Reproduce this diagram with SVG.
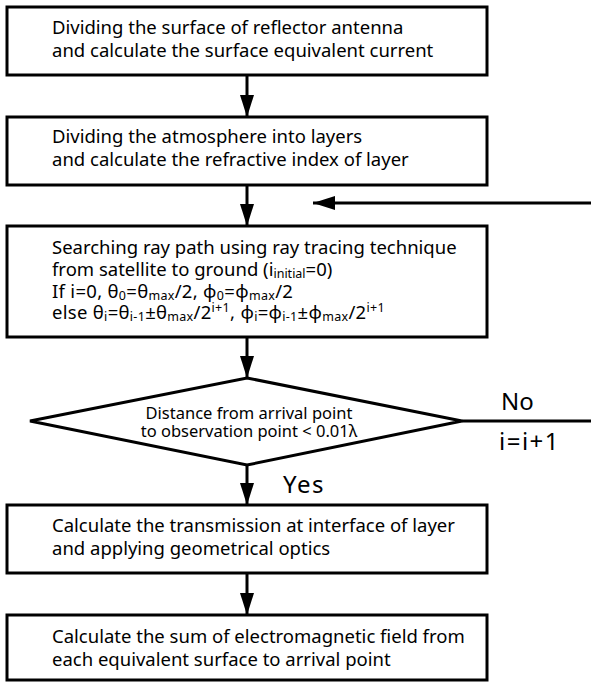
<svg xmlns="http://www.w3.org/2000/svg" width="591" height="682" viewBox="0 0 591 682">
<style>
.box{fill:#fff;stroke:#000;stroke-width:3}
.t{font-family:"Noto Sans","DejaVu Sans",sans-serif;font-size:18.5px;fill:#000}
.d{font-family:"Noto Sans","DejaVu Sans",sans-serif;font-size:16.5px;fill:#000}
.l{font-family:"Noto Sans","DejaVu Sans",sans-serif;font-size:24px;fill:#000}
.c{stroke:#000;stroke-width:3;fill:none}
.s{font-size:12.5px}
</style>
<defs>
<marker id="ah" viewBox="0 0 22 14" refX="22" refY="7" markerWidth="22" markerHeight="14" markerUnits="userSpaceOnUse" orient="auto">
<path d="M0,0 L22,7 L0,14 Z" fill="#000"/>
</marker>
</defs>
<rect width="591" height="682" fill="#fff"/>
<g id="connectors">
<line class="c" x1="247" y1="75" x2="247" y2="117" marker-end="url(#ah)"/>
<line class="c" x1="247" y1="185" x2="247" y2="226" marker-end="url(#ah)"/>
<line class="c" x1="591" y1="203" x2="313" y2="203" marker-end="url(#ah)"/>
<line class="c" x1="247" y1="337" x2="247" y2="378" marker-end="url(#ah)"/>
<line class="c" x1="462" y1="421" x2="591" y2="421"/>
<line class="c" x1="247" y1="465" x2="247" y2="505" marker-end="url(#ah)"/>
<line class="c" x1="247" y1="573" x2="247" y2="615" marker-end="url(#ah)"/>
<text class="l" x="501" y="410">No</text>
<text class="l" x="499" y="450" letter-spacing="1.5">i=i+1</text>
<text class="l" x="283" y="493" font-size="25" letter-spacing="1.5">Yes</text>
</g>
<g id="n1">
<rect class="box" x="7" y="7" width="480" height="68"/>
<text class="t" x="52" y="34">Dividing the surface of reflector antenna</text>
<text class="t" x="52" y="57">and calculate the surface equivalent current</text>
</g>
<g id="n2">
<rect class="box" x="7" y="117" width="480" height="68"/>
<text class="t" x="52" y="143">Dividing the atmosphere into layers</text>
<text class="t" x="52" y="166">and calculate the refractive index of layer</text>
</g>
<g id="n3">
<rect class="box" x="7" y="226" width="480" height="111"/>
<text class="t" x="52" y="254">Searching ray path using ray tracing technique</text>
<text class="t" x="52" y="276">from satellite to ground (i<tspan class="s" dy="2">initial</tspan><tspan dy="-2">=0)</tspan></text>
<text class="t" x="52" y="298" letter-spacing="0.3">If i=0, θ<tspan class="s" dy="2">0</tspan><tspan dy="-2">=θ</tspan><tspan class="s" dy="2">max</tspan><tspan dy="-2">/2, φ</tspan><tspan class="s" dy="2">0</tspan><tspan dy="-2">=φ</tspan><tspan class="s" dy="2">max</tspan><tspan dy="-2">/2</tspan></text>
<text class="t" x="52" y="319" letter-spacing="0.3">else θ<tspan class="s" dy="2">i</tspan><tspan dy="-2">=θ</tspan><tspan class="s" dy="2">i-1</tspan><tspan dy="-2">±θ</tspan><tspan class="s" dy="2">max</tspan><tspan dy="-2">/2</tspan><tspan class="s" dy="-7">i+1</tspan><tspan dy="7">, φ</tspan><tspan class="s" dy="2">i</tspan><tspan dy="-2">=φ</tspan><tspan class="s" dy="2">i-1</tspan><tspan dy="-2">±φ</tspan><tspan class="s" dy="2">max</tspan><tspan dy="-2">/2</tspan><tspan class="s" dy="-7">i+1</tspan></text>
</g>
<g id="n4">
<polygon class="box" points="247,378 462,421 247,465 30,421"/>
<text class="d" x="249" y="419" text-anchor="middle">Distance from arrival point</text>
<text class="d" x="249" y="437" text-anchor="middle">to observation point &lt; 0.01λ</text>
</g>
<g id="n5">
<rect class="box" x="7" y="505" width="480" height="68"/>
<text class="t" x="52" y="532">Calculate the transmission at interface of layer</text>
<text class="t" x="52" y="555">and applying geometrical optics</text>
</g>
<g id="n6">
<rect class="box" x="7" y="615" width="480" height="65"/>
<text class="t" x="52" y="643">Calculate the sum of electromagnetic field from</text>
<text class="t" x="52" y="666">each equivalent surface to arrival point</text>
</g>
</svg>
